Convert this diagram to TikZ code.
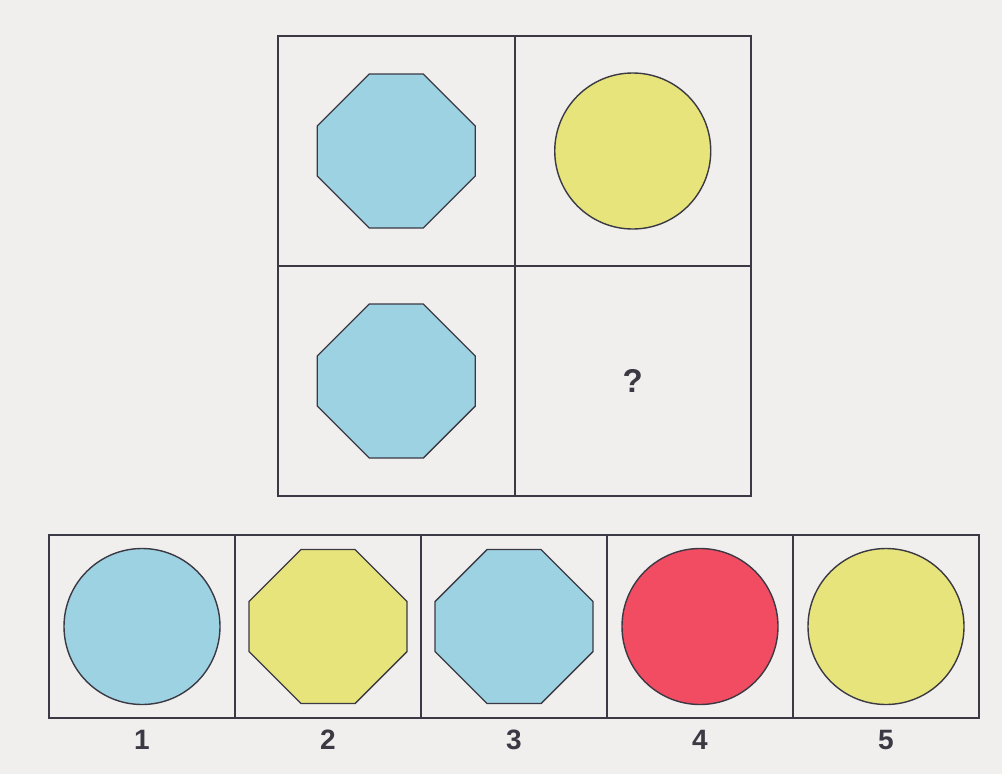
\documentclass[tikz,border=0pt]{standalone}
\usepackage{fontspec}
\setmainfont{Liberation Sans}
\usepackage{tikz}
\definecolor{puzBack}{HTML}{F1EFED}
\definecolor{puzLine}{HTML}{3A3944}
\definecolor{puzBlue}{HTML}{9DD2E2}
\definecolor{puzYellow}{HTML}{E6E47A}
\definecolor{puzRed}{HTML}{F24C63}
\tikzset{
  bigcell/.style={rectangle,draw=puzLine,line width=2pt,inner sep=0pt,
    minimum width=236.5pt,minimum height=230pt},
  smallcell/.style={rectangle,draw=puzLine,line width=2pt,inner sep=0pt,
    minimum width=186pt,minimum height=183pt},
  disc/.style={circle,draw=puzLine,line width=1.4pt,inner sep=0pt,minimum size=156pt},
  numlabel/.style={font=\bfseries\fontsize{28}{28}\selectfont,text=puzLine},
  pics/octa/.style={code={
    \draw[draw=puzLine,line width=1.4pt,fill=#1]
      (-27,-77) -- (27,-77) -- (79,-25) -- (79,25) -- (27,77)
      -- (-27,77) -- (-79,25) -- (-79,-25) -- cycle;}}
}
\begin{document}
\begin{tikzpicture}[x=1pt,y=-1pt]
  \fill[puzBack] (0,0) rectangle (1002,774);
  \useasboundingbox (0,0) rectangle (1002,774);
  % matrix
  \node[bigcell] (m11) at (396.25,151) {};
  \node[bigcell] (m12) at (632.75,151) {};
  \node[bigcell] (m21) at (396.25,381) {};
  \node[bigcell] (m22) at (632.75,381) {};
  \pic at (m11.center) {octa=puzBlue};
  \node[disc,fill=puzYellow] (d12) at (m12.center) {};
  \pic at (m21.center) {octa=puzBlue};
  \node[font=\bfseries\fontsize{33}{33}\selectfont,text=puzLine] (ask) at (m22.center) {?};
  % answers
  \foreach \i/\x in {1/142,2/328,3/514,4/700,5/886}{
    \node[smallcell] (a\i) at (\x,626.5) {};
    \node[numlabel] (n\i) at (\x,740) {\i};
  }
  \node[disc,fill=puzBlue] (s1) at (a1.center) {};
  \pic at (a2.center) {octa=puzYellow};
  \pic at (a3.center) {octa=puzBlue};
  \node[disc,fill=puzRed] (s4) at (a4.center) {};
  \node[disc,fill=puzYellow] (s5) at (a5.center) {};
\end{tikzpicture}
\end{document}
